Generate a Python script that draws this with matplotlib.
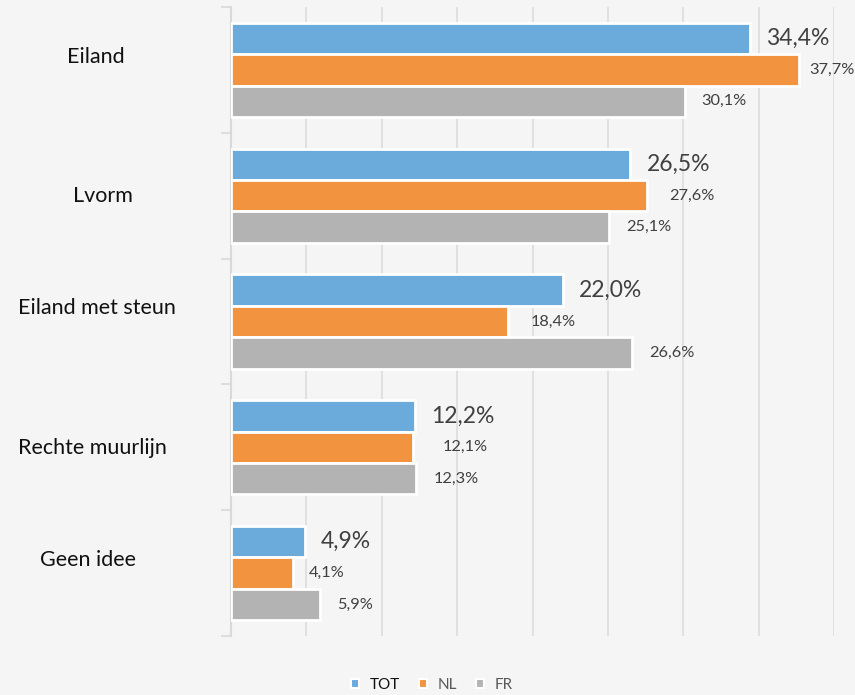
import matplotlib
matplotlib.use('Agg')
import matplotlib.pyplot as plt
from matplotlib.patches import Patch
import matplotlib.transforms as mtransforms
import numpy as np

categories = ['Eiland', 'Lvorm', 'Eiland met steun', 'Rechte muurlijn', 'Geen idee']
series_names = ['TOT', 'NL', 'FR']
tot_values = [34.4, 26.5, 22.0, 12.2, 4.9]
nl_values = [37.7, 27.6, 18.4, 12.1, 4.1]
fr_values = [30.1, 25.1, 26.6, 12.3, 5.9]

colors = ['#6aabdc', '#f29340', '#b3b3b3']
bg = '#f5f5f5'

# label offsets in pixels (excel had them nudged around)
label_pad = {'TOT': [16] * 5, 'NL': [10, 22, 22, 29, 16], 'FR': [17] * 5}
label_size = {'TOT': 16.5, 'NL': 11.8, 'FR': 11.8}
# category label centres in pixels (x) and shift from group centre (y)
cat_x = [96, 103, 97, 92, 88]
cat_dy = [-13, 0, -13, 1, -13]

plt.rcParams['font.family'] = ['Lato', 'DejaVu Sans']

def main():
    fig = plt.figure(figsize=(8.55, 6.95), dpi=100, facecolor=bg)
    ax = fig.add_axes([231 / 855, 1 - 636 / 695, (834 - 231) / 855, (636 - 7) / 695])
    ax.set_facecolor(bg)

    y = np.arange(len(categories))
    h = 0.25
    all_values = [tot_values, nl_values, fr_values]
    for k, (name, vals) in enumerate(zip(series_names, all_values)):
        pos = y + (k - 1) * h
        ax.barh(pos, vals, height=h, color=colors[k], edgecolor='white',
                linewidth=2, zorder=3)
        for i, v in enumerate(vals):
            ax.annotate(f'{v:.1f}%'.replace('.', ','), xy=(v, pos[i]),
                        xytext=(label_pad[name][i] * 0.72, 0),
                        textcoords='offset points', ha='left', va='center',
                        fontsize=label_size[name], color='#404040', zorder=4,
                        annotation_clip=False)

    ax.set_xlim(0, 40)
    ax.set_ylim(len(categories) - 0.5, -0.5)
    ax.set_xticks(np.arange(0, 41, 5))
    ax.xaxis.grid(True, color='#dcdcdc', linewidth=1.2, zorder=0)
    ax.tick_params(axis='x', length=0, labelbottom=False)

    ax.set_yticks(y)
    ax.set_yticklabels([])
    ax.tick_params(axis='y', length=0)
    ax.set_yticks(np.arange(-0.5, len(categories)), minor=True)
    ax.tick_params(axis='y', which='minor', length=7, color='#d9d9d9', width=1.2)

    for i, cat in enumerate(categories):
        tr = mtransforms.blended_transform_factory(fig.transFigure, ax.transData)
        tr = tr + mtransforms.ScaledTranslation(0, -cat_dy[i] / 100, fig.dpi_scale_trans)
        fig.text(cat_x[i] / 855, i, cat, transform=tr, ha='center', va='center',
                 fontsize=15.5, color='#111111')

    for s in ['top', 'right', 'bottom']:
        ax.spines[s].set_visible(False)
    ax.spines['left'].set_color('#d9d9d9')
    ax.spines['left'].set_linewidth(1.5)

    handles = [Patch(facecolor=c, edgecolor='white', linewidth=1.5) for c in colors]
    leg = fig.legend(handles, series_names, loc='center', bbox_to_anchor=(432 / 855, 1 - 685 / 695),
                     ncol=3, frameon=False, fontsize=11, handlelength=0.55, handleheight=0.55,
                     handletextpad=0.7, columnspacing=1.2)
    for t, c in zip(leg.get_texts(), ['#111111', '#595959', '#595959']):
        t.set_color(c)

    fig.savefig('out.png', dpi=100, facecolor=bg)

if __name__ == '__main__':
    main()
